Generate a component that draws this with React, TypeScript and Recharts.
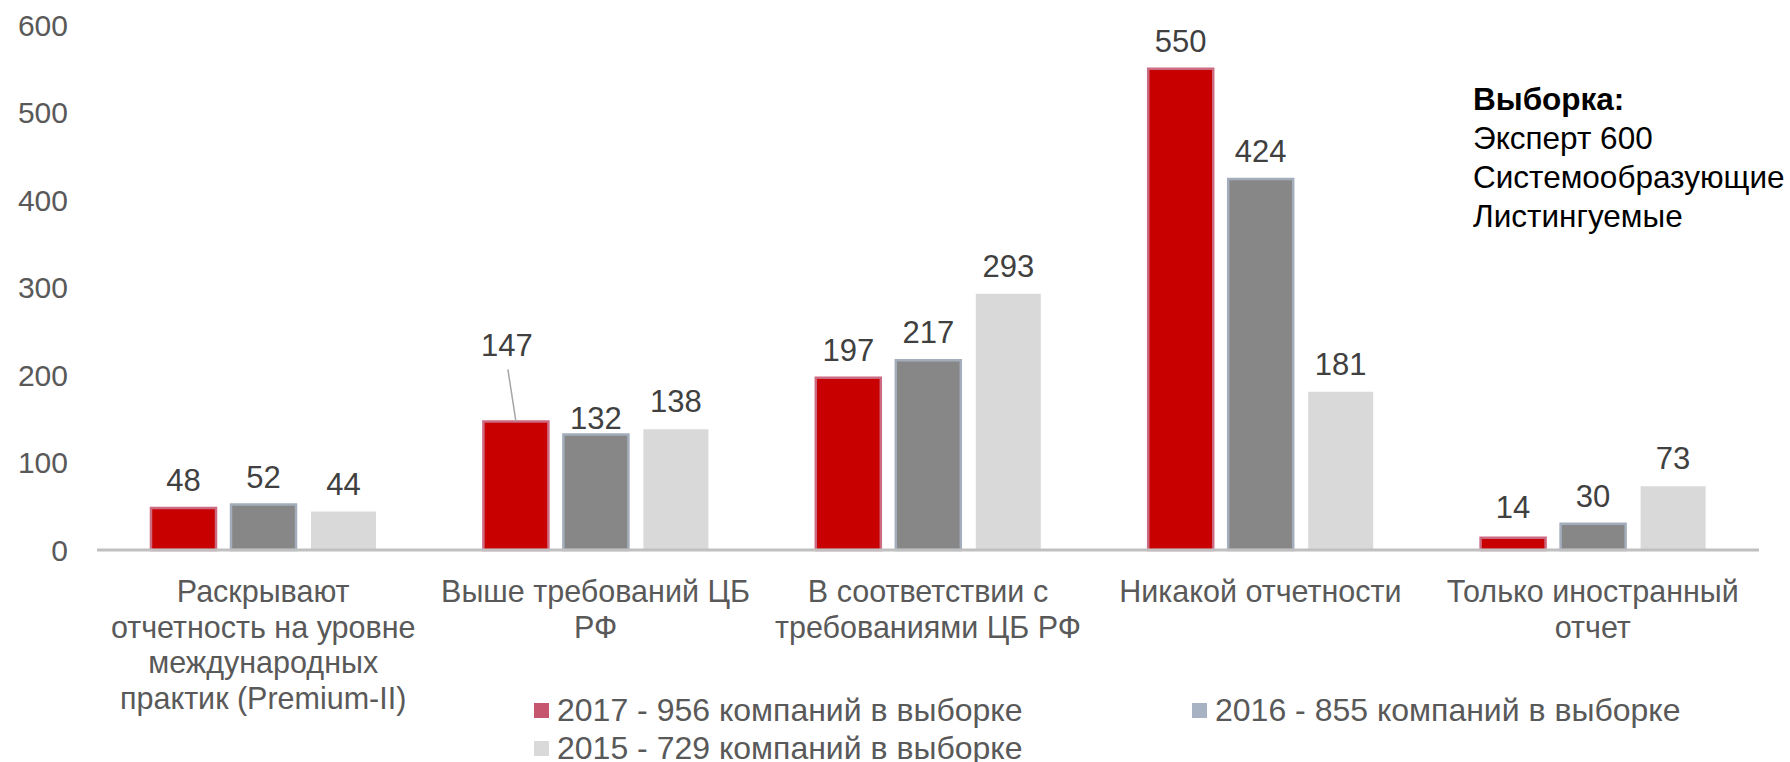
import { Bar, BarChart, LabelList, XAxis, YAxis } from "recharts";

const categories = [
  "Раскрывают\nотчетность на уровне\nмеждународных\nпрактик (Premium-II)",
  "Выше требований ЦБ\nРФ",
  "В соответствии с\nтребованиями ЦБ РФ",
  "Никакой отчетности",
  "Только иностранный\nотчет",
];
const values2017 = [48, 147, 197, 550, 14];
const values2016 = [52, 132, 217, 424, 30];
const values2015 = [44, 138, 293, 181, 73];
const seriesNames = [
  "2017 - 956 компаний в выборке",
  "2016 - 855 компаний в выборке",
  "2015 - 729 компаний в выборке",
];
const yTicks = [0, 100, 200, 300, 400, 500, 600];
const noteLines = ["Эксперт 600", "Системообразующие", "Листингуемые"];

const data = categories.map((name, i) => ({
  name,
  y2017: values2017[i],
  y2016: values2016[i],
  y2015: values2015[i],
}));

const FONT = "Arial, 'Liberation Sans', sans-serif";
const W = 1790;
const H = 762;

// manual label tweaks (series key + category index)
const labelNudge: Record<string, { dx: number; dy: number; leader?: boolean }> = {
  "y2017-1": { dx: -9, dy: -48, leader: true },
  "y2016-1": { dx: 0, dy: 11 },
  "y2017-4": { dx: 0, dy: -3 },
};

function makeLabel(key: string) {
  return (props: any) => {
    const { x, y, width, value, index } = props;
    const nudge = labelNudge[`${key}-${index}`] || { dx: 0, dy: 0 };
    const cx = x + width / 2;
    const baseY = y - 17;
    return (
      <g>
        {nudge.leader && (
          <line
            x1={cx + nudge.dx + 1}
            y1={y + nudge.dy - 4}
            x2={cx}
            y2={y}
            stroke="#a6a6a6"
            strokeWidth={1.5}
          />
        )}
        <text
          x={cx + nudge.dx}
          y={baseY + nudge.dy}
          textAnchor="middle"
          fill="#404040"
          fontSize={31}
          fontFamily={FONT}
        >
          {value}
        </text>
      </g>
    );
  };
}

function CategoryTick(props: any) {
  const { x, y, payload } = props;
  const lines = String(payload.value).split("\n");
  return (
    <text textAnchor="middle" fill="#595959" fontSize={30.5} fontFamily={FONT}>
      {lines.map((line, i) => (
        <tspan key={i} x={x} y={y + 50 + i * 35.5}>
          {line}
        </tspan>
      ))}
    </text>
  );
}

const swatches = ["#c5566e", "#a7b2c2", "#d9d9d9"];
const legendPos = [
  { left: 534, top: 691 },
  { left: 1192, top: 691 },
  { left: 534, top: 729 },
];

export default function App() {
  return (
    <div style={{ position: "absolute", left: 0, top: 0, width: W, height: H, background: "#fff" }}>
      <BarChart
        width={W}
        height={H}
        data={data}
        margin={{ top: 25, right: 31, left: 0, bottom: 0 }}
        barSize={65}
        barGap={15}
      >
        <XAxis
          dataKey="name"
          height={212}
          tickLine={false}
          tickSize={0}
          axisLine={{ stroke: "#c0c0c0", strokeWidth: 3 }}
          tick={<CategoryTick />}
          interval={0}
        />
        <YAxis
          width={97}
          domain={[0, 600]}
          ticks={yTicks}
          axisLine={false}
          tickLine={false}
          tickSize={0}
          tickMargin={29}
          tick={{ fill: "#595959", fontSize: 30, fontFamily: FONT }}
        />
        <Bar dataKey="y2017" fill="#c80000" stroke="#cc6a82" strokeWidth={2.5} isAnimationActive={false}>
          <LabelList dataKey="y2017" content={makeLabel("y2017")} />
        </Bar>
        <Bar dataKey="y2016" fill="#878787" stroke="#a3adbb" strokeWidth={2.5} isAnimationActive={false}>
          <LabelList dataKey="y2016" content={makeLabel("y2016")} />
        </Bar>
        <Bar dataKey="y2015" fill="#d9d9d9" isAnimationActive={false}>
          <LabelList dataKey="y2015" content={makeLabel("y2015")} />
        </Bar>
      </BarChart>

      {seriesNames.map((name, i) => (
        <div
          key={name}
          style={{
            position: "absolute",
            left: legendPos[i].left,
            top: legendPos[i].top,
            height: 38,
            display: "flex",
            alignItems: "center",
            fontFamily: FONT,
            fontSize: 32,
            color: "#595959",
            whiteSpace: "nowrap",
          }}
        >
          <span style={{ width: 15, height: 15, background: swatches[i], marginRight: 8, display: "inline-block" }} />
          {name}
        </div>
      ))}

      <div
        style={{
          position: "absolute",
          left: 1473,
          top: 80,
          fontFamily: FONT,
          fontSize: 31.5,
          lineHeight: "39px",
          color: "#000",
          whiteSpace: "nowrap",
        }}
      >
        <div style={{ fontWeight: "bold" }}>Выборка:</div>
        {noteLines.map((l) => (
          <div key={l}>{l}</div>
        ))}
      </div>
    </div>
  );
}
